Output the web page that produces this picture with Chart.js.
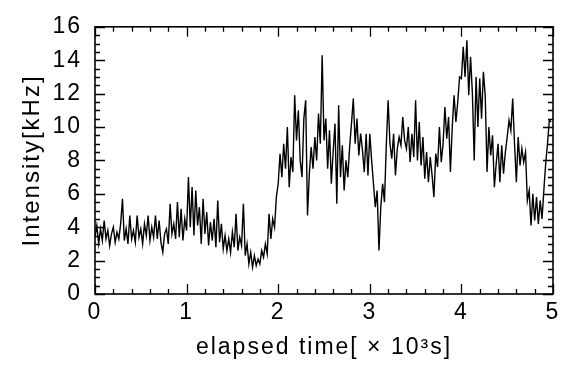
<!DOCTYPE html>
<html><head><meta charset="utf-8">
<script src="https://cdn.jsdelivr.net/npm/chart.js@4/dist/chart.umd.min.js"></script>
<style>html,body{margin:0;padding:0;background:#fff}</style>
</head><body>
<canvas id="c" width="567" height="371"></canvas>
<script>
// elapsed time axis (×10^3 s): sampling start and interval of the trace
const timeStart = 0;
const timeStep = 0.02;
// intensity [kHz], one value per 0.02 ×10^3 s
const intensity = [
 3.4,4.1,3.0,3.9,3.2,4.4,3.3,3.8,2.9,3.6,
 4.0,3.1,3.7,3.3,4.2,5.7,3.2,3.9,3.0,4.7,
 3.3,3.8,3.1,4.7,3.4,3.9,3.0,4.2,3.5,4.7,
 3.2,4.0,3.4,4.7,3.3,4.4,3.1,2.5,3.6,3.9,
 3.0,5.4,3.6,4.2,3.3,5.5,3.4,5.1,3.2,4.5,
 3.8,7.0,4.0,6.4,3.5,6.2,4.1,5.2,3.0,5.7,
 3.6,4.9,2.9,4.3,3.2,4.5,2.8,5.6,3.1,4.2,
 2.7,3.5,2.6,3.3,2.5,3.7,2.8,4.8,2.6,3.4,
 2.9,5.4,2.3,3.0,1.8,2.5,1.6,2.3,1.7,2.1,
 1.8,2.6,2.2,3.0,2.4,4.8,3.3,4.5,4.0,5.8,
 6.6,8.4,7.0,9.0,7.5,10.0,6.4,8.2,7.3,11.9,
 9.2,11.0,8.0,7.0,10.5,11.6,4.7,7.2,8.8,7.5,
 9.4,8.0,10.8,9.0,14.3,9.2,10.5,7.5,9.8,6.6,
 8.5,10.2,5.4,11.3,7.0,8.9,6.2,8.0,7.0,8.8,
 10.2,11.7,9.0,10.5,8.3,9.6,8.6,7.3,9.6,7.1,
 9.6,8.0,6.6,5.2,6.2,2.6,5.2,6.6,5.5,8.9,
 11.6,9.0,8.1,9.6,7.1,8.7,9.4,8.9,10.6,9.2,
 8.7,10.0,7.9,9.6,8.2,11.6,8.0,10.3,7.7,9.4,
 6.9,8.5,6.7,8.2,7.1,5.8,8.4,7.6,10.0,7.9,
 9.0,11.2,9.3,10.6,7.3,10.0,11.9,10.3,11.5,13.0,
 12.9,14.8,13.0,15.2,11.9,14.2,12.0,8.0,13.0,10.0,
 12.9,10.5,13.3,11.9,7.3,10.0,8.3,9.5,6.4,7.8,
 9.0,6.7,8.9,7.2,8.5,9.4,10.4,9.8,11.7,9.0,
 6.7,9.4,7.7,8.7,7.9,8.5,5.6,6.2,4.1,6.0,
 4.4,5.8,4.2,5.6,4.5,6.2,7.8,9.0,10.4,10.3
];
const xTickValues = [0,1,2,3,4,5];
const yTickValues = [0,2,4,6,8,10,12,14,16];
const xMinorStep = 0.2;
const yMinorStep = 0.5;
const xTitle = 'elapsed time[ \u00d7 10\u00b3s]';
const yTitle = 'Intensity[kHz]';

const points = intensity.map((v, i) => ({ x: +(timeStart + i * timeStep).toFixed(3), y: v }));

const FONT = "'Liberation Sans', Arial, Helvetica, sans-serif";

const spacing = {
  id: 'spacing',
  beforeLayout(chart) { chart.ctx.letterSpacing = '2px'; },
  beforeDraw(chart) { chart.ctx.letterSpacing = '2px'; }
};

const frameTicks = {
  id: 'frameTicks',
  afterDraw(chart) {
    const { ctx, chartArea: a, scales: { x, y } } = chart;
    ctx.save();
    ctx.strokeStyle = '#000';
    ctx.lineWidth = 1.6;
    ctx.strokeRect(a.left, a.top, a.right - a.left, a.bottom - a.top);
    ctx.lineWidth = 1.3;
    ctx.beginPath();
    const nx = Math.round((x.max - x.min) / xMinorStep);
    for (let i = 0; i <= nx; i++) {
      const v = x.min + i * xMinorStep;
      const major = xTickValues.some(t => Math.abs(t - v) < 1e-6);
      const len = major ? 10 : 5;
      const px = Math.round(x.getPixelForValue(v)) + 0.5;
      ctx.moveTo(px, a.bottom); ctx.lineTo(px, a.bottom - len);
      ctx.moveTo(px, a.top); ctx.lineTo(px, a.top + len);
    }
    const ny = Math.round((y.max - y.min) / yMinorStep);
    for (let i = 0; i <= ny; i++) {
      const v = y.min + i * yMinorStep;
      const major = yTickValues.some(t => Math.abs(t - v) < 1e-6);
      const len = major ? 10 : 5;
      const py = Math.round(y.getPixelForValue(v)) + 0.5;
      ctx.moveTo(a.left, py); ctx.lineTo(a.left + len, py);
      ctx.moveTo(a.right, py); ctx.lineTo(a.right - len, py);
    }
    ctx.stroke();
    ctx.restore();
  }
};

new Chart(document.getElementById('c'), {
  type: 'line',
  data: {
    datasets: [{
      data: points,
      borderColor: '#000',
      borderWidth: 1.4,
      pointRadius: 0,
      tension: 0,
      fill: false
    }]
  },
  options: {
    responsive: false,
    animation: false,
    layout: { padding: { left: 0, right: 14, top: 16, bottom: 0 } },
    plugins: { legend: { display: false }, tooltip: { enabled: false } },
    scales: {
      x: {
        type: 'linear', min: 0, max: 5,
        afterBuildTicks: s => { s.ticks = xTickValues.map(v => ({ value: v })); },
        afterFit: s => { s.height = 77; },
        grid: { display: false, drawTicks: false },
        border: { display: false },
        ticks: { color: '#000', padding: 5, maxRotation: 0, font: { family: FONT, size: 23 } },
        title: { display: true, text: xTitle, color: '#000', padding: { top: 0, bottom: 10 }, font: { family: FONT, size: 23 } }
      },
      y: {
        type: 'linear', min: 0, max: 16,
        afterBuildTicks: s => { s.ticks = yTickValues.map(v => ({ value: v })); },
        afterFit: s => { s.width = 95; },
        grid: { display: false, drawTicks: false },
        border: { display: false },
        ticks: { color: '#000', padding: 13, font: { family: FONT, size: 23 } },
        title: { display: true, text: yTitle, color: '#000', padding: { top: 18, bottom: 0 }, font: { family: FONT, size: 24 } }
      }
    }
  },
  plugins: [spacing, frameTicks]
});
</script>
</body></html>
